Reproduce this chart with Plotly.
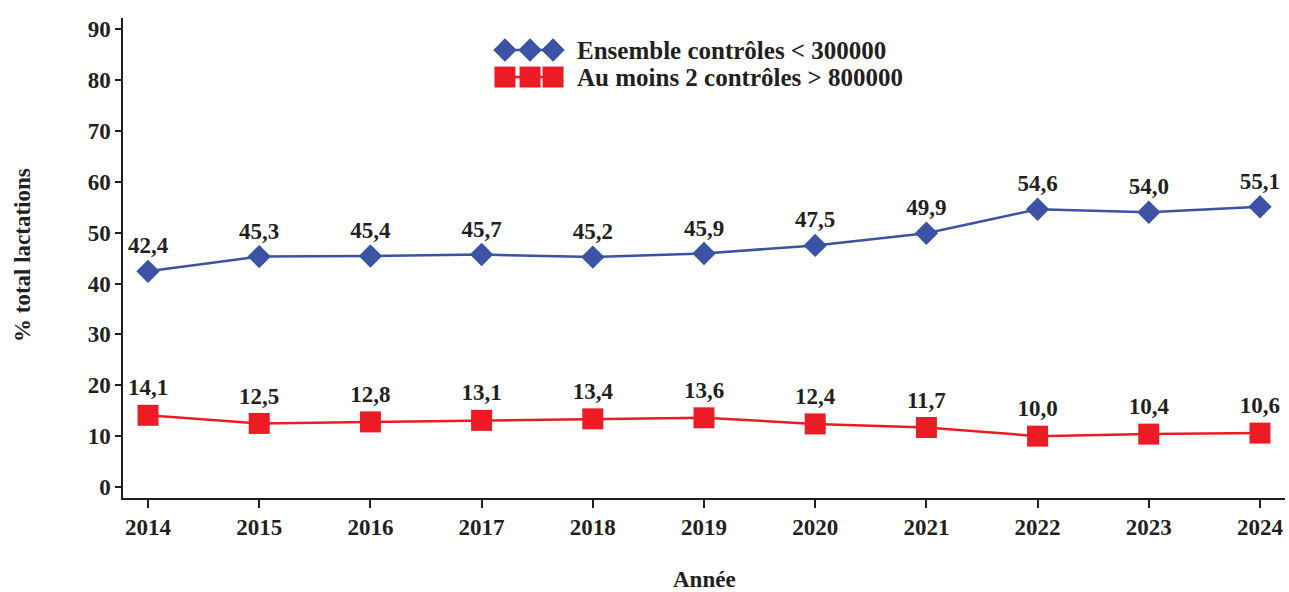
import plotly.graph_objects as go

years = [2014, 2015, 2016, 2017, 2018, 2019, 2020, 2021, 2022, 2023, 2024]
low_scc = [42.4, 45.3, 45.4, 45.7, 45.2, 45.9, 47.5, 49.9, 54.6, 54.0, 55.1]
high_scc = [14.1, 12.5, 12.8, 13.1, 13.4, 13.6, 12.4, 11.7, 10.0, 10.4, 10.6]
series_names = ["Ensemble contrôles < 300000", "Au moins 2 contrôles > 800000"]
y_ticks = [0, 10, 20, 30, 40, 50, 60, 70, 80, 90]
x_title = "Année"
y_title = "% total lactations"

BLUE = "#3A53A4"
RED = "#ED1C24"
INK = "#231F20"
FONT = "Liberation Serif"


def fr(v):
    return f"{v:.1f}".replace(".", ",")


fig = go.Figure()

for vals, sym, size, col in [(low_scc, "diamond", 18, BLUE), (high_scc, "square", 21, RED)]:
    fig.add_trace(go.Scatter(
        x=years, y=vals, mode="lines+markers+text",
        line=dict(color=col, width=2.5),
        marker=dict(symbol=sym, size=size, color=col),
        text=[f"<b>{fr(v)}</b>" for v in vals], textposition="top center",
        textfont=dict(family=FONT, size=23, color=INK),
        cliponaxis=False, showlegend=False,
    ))

# Legend keys: three markers joined by a line, drawn on an overlay axis in plot-fraction units
key_x = [0.3287, 0.3503, 0.3701]
key_y = [0.9333, 0.877]
for sym, size, col, ky, name in [("diamond", 18, BLUE, key_y[0], series_names[0]),
                                  ("square", 21, RED, key_y[1], series_names[1])]:
    fig.add_trace(go.Scatter(
        x=key_x, y=[ky] * 3, xaxis="x2", yaxis="y2", mode="lines+markers",
        line=dict(color=col, width=2.5), marker=dict(symbol=sym, size=size, color=col),
        showlegend=False, hoverinfo="skip", cliponaxis=False,
    ))
    fig.add_annotation(
        x=0.389, y=ky, xref="x2", yref="y2", text=f"<b>{name}</b>", showarrow=False,
        xanchor="left", yanchor="middle",
        font=dict(family=FONT, size=25, color=INK),
    )

# Axis titles
fig.add_annotation(
    x=0.5, y=-0.169, xref="paper", yref="paper", text=f"<b>{x_title}</b>",
    showarrow=False, xanchor="center", yanchor="middle",
    font=dict(family=FONT, size=23, color=INK),
)
fig.add_annotation(
    x=-0.087, y=0.506, xref="paper", yref="paper", text=f"<b>{y_title}</b>",
    showarrow=False, xanchor="center", yanchor="middle", textangle=-90,
    font=dict(family=FONT, size=23, color=INK),
)

fig.update_layout(
    width=1289, height=592,
    margin=dict(l=123, r=4, t=18, b=94),
    paper_bgcolor="white", plot_bgcolor="white",
    font=dict(family=FONT, color=INK),
    xaxis=dict(
        range=[2013.775, 2024.225], tickmode="array", tickvals=years,
        ticktext=[f"<b>{y}</b>" for y in years],
        tickfont=dict(family=FONT, size=23, color=INK),
        showgrid=False, zeroline=False, showline=True, linecolor=INK, linewidth=1.5,
        ticks="outside", ticklen=8, tickwidth=1.5, tickcolor=INK,
    ),
    yaxis=dict(
        range=[-2.16, 92.2], tickmode="array", tickvals=y_ticks,
        ticktext=[f"<b>{t}</b>" for t in y_ticks],
        tickfont=dict(family=FONT, size=23, color=INK),
        showgrid=False, zeroline=False, showline=True, linecolor=INK, linewidth=1.5,
        ticks="outside", ticklen=6, tickwidth=1.5, tickcolor=INK,
    ),
    xaxis2=dict(range=[0, 1], overlaying="x", visible=False, fixedrange=True),
    yaxis2=dict(range=[0, 1], overlaying="y", visible=False, fixedrange=True),
)

fig.write_html("out.html")
